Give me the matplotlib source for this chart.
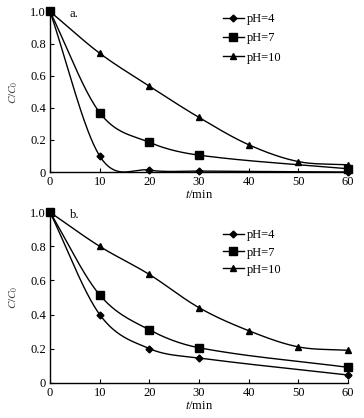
import numpy as np
import matplotlib
matplotlib.use('Agg')
import matplotlib.pyplot as plt

plt.rcParams.update({
    'font.family': 'Liberation Serif',
    'mathtext.fontset': 'stix',
    'font.size': 9,
    'xtick.direction': 'in', 'ytick.direction': 'in',
    'xtick.major.size': 3, 'ytick.major.size': 3,
    'axes.linewidth': 1.0,
})

# panel a
t_a4 = [0, 10, 20, 30, 60]
c_a4 = [1.0, 0.10, 0.012, 0.006, 0.0]
t_a7 = [0, 10, 20, 30, 60]
c_a7 = [1.0, 0.37, 0.185, 0.105, 0.02]
t_a10 = [0, 10, 20, 30, 40, 50, 60]
c_a10 = [1.0, 0.74, 0.535, 0.34, 0.17, 0.065, 0.045]

# panel b
t_b4 = [0, 10, 20, 30, 60]
c_b4 = [1.0, 0.40, 0.20, 0.145, 0.045]
t_b7 = [0, 10, 20, 30, 60]
c_b7 = [1.0, 0.515, 0.31, 0.205, 0.09]
t_b10 = [0, 10, 20, 30, 40, 50, 60]
c_b10 = [1.0, 0.80, 0.635, 0.44, 0.305, 0.21, 0.19]

labels = ['pH=4', 'pH=7', 'pH=10']
markers = [('D', 3.5), ('s', 6), ('^', 5)]


def smooth(x, y, n=40):
    # cubic hermite with catmull-rom style tangents
    x = np.asarray(x, float); y = np.asarray(y, float)
    k = len(x)
    m = np.empty(k)
    m[0] = (y[1] - y[0]) / (x[1] - x[0])
    m[-1] = (y[-1] - y[-2]) / (x[-1] - x[-2])
    for i in range(1, k - 1):
        m[i] = (y[i + 1] - y[i - 1]) / (x[i + 1] - x[i - 1])
    xs, ys = [], []
    for i in range(k - 1):
        h = x[i + 1] - x[i]
        s = np.linspace(0, 1, n)
        h00 = 2 * s**3 - 3 * s**2 + 1
        h10 = s**3 - 2 * s**2 + s
        h01 = -2 * s**3 + 3 * s**2
        h11 = s**3 - s**2
        xs.append(x[i] + s * h)
        ys.append(h00 * y[i] + h10 * h * m[i] + h01 * y[i + 1] + h11 * h * m[i + 1])
    return np.concatenate(xs), np.concatenate(ys)


fig = plt.figure(figsize=(3.64, 4.18), dpi=100)
ax_a = fig.add_axes([0.1374, 0.5885, 0.8187, 0.384])
ax_b = fig.add_axes([0.1374, 0.0845, 0.8187, 0.4077])

panels = [(ax_a, 'a.', [(t_a4, c_a4), (t_a7, c_a7), (t_a10, c_a10)], 0.99, 0.58),
          (ax_b, 'b.', [(t_b4, c_b4), (t_b7, c_b7), (t_b10, c_b10)], 0.90, 0.42)]

for ax, tag, series, ly, lsp in panels:
    handles = []
    for (t, c), (m, ms), lab in zip(series, markers, labels):
        xs, ys = smooth(t, c)
        ax.plot(xs, ys, color='black', lw=1.0)
        ax.plot(t, c, ls='none', marker=m, ms=ms, color='black', clip_on=False)
        h, = ax.plot([], [], color='black', lw=1.0, marker=m, ms=ms, label=lab)
        handles.append(h)
    ax.set_xlim(0, 60)
    ax.set_ylim(0, 1.0)
    ax.set_xticks(range(0, 61, 10))
    ax.set_yticks([0, 0.2, 0.4, 0.6, 0.8, 1.0])
    ax.set_yticklabels(['0', '0.2', '0.4', '0.6', '0.8', '1.0'])
    ax.spines['top'].set_visible(False)
    ax.spines['right'].set_visible(False)
    ax.tick_params(pad=3, labelsize=9)
    ax.set_xlabel(r'$t$/min', fontsize=9, labelpad=0.5)
    ax.set_ylabel(r'$C/C_0$', fontsize=8, color='#444', labelpad=7)
    ax.text(4, 0.985, tag, fontsize=9, va='center')
    ax.legend(handles=handles, loc='upper left', bbox_to_anchor=(0.58, ly),
              borderaxespad=0, borderpad=0,
              frameon=False, fontsize=9, handlelength=1.7, handletextpad=0.25,
              labelspacing=lsp)

fig.savefig('out.png', dpi=100)
